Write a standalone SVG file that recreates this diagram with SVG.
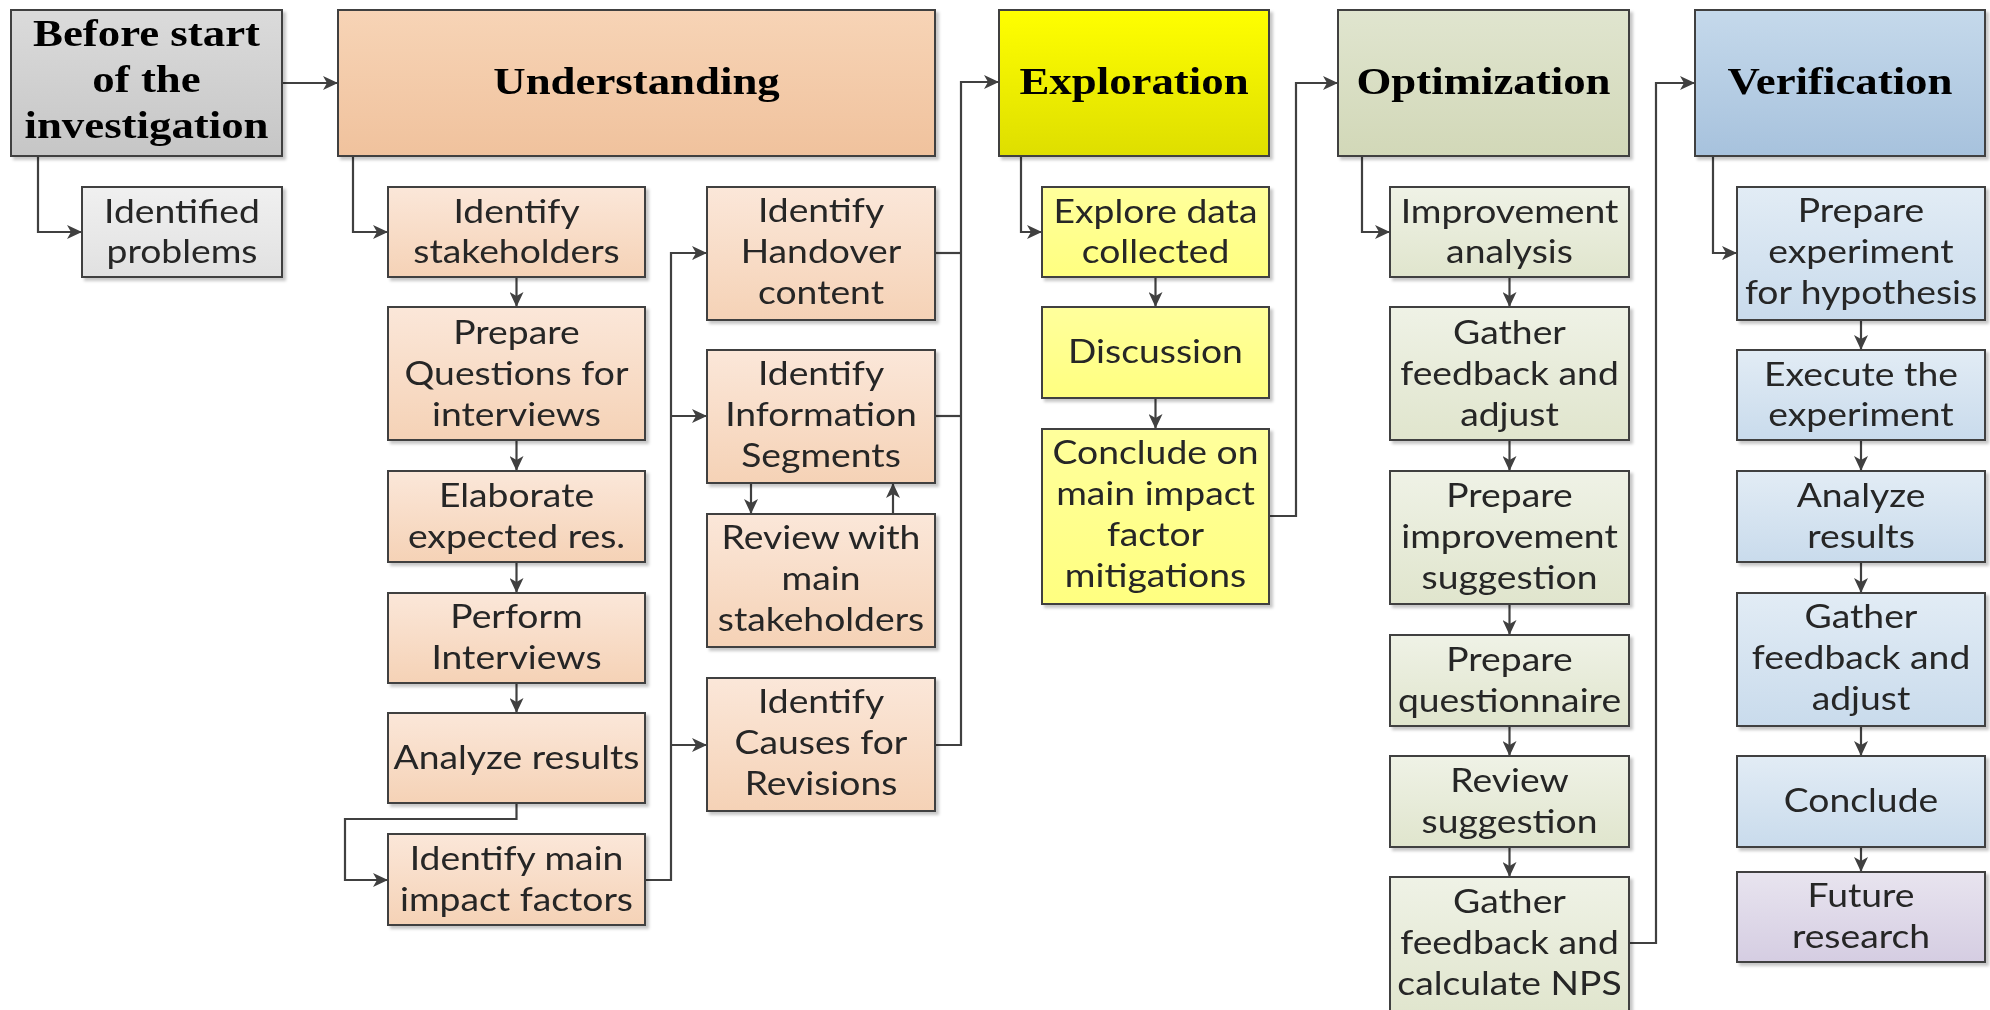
<svg xmlns="http://www.w3.org/2000/svg" width="1990" height="1010" viewBox="0 0 1990 1010">
<defs>
<style>
.box{stroke:#404040;stroke-width:2}
.h{font-family:"Liberation Serif",serif;font-weight:bold;font-size:38px;fill:#000;text-anchor:middle}
.t{font-family:Lato,"Noto Sans",sans-serif;font-size:32px;fill:#262626;text-anchor:middle}
.c{fill:none;stroke:#404040;stroke-width:2.2}
.a{marker-end:url(#ah)}
</style>
<filter id="sh" x="-5%" y="-5%" width="115%" height="120%">
<feDropShadow dx="3" dy="3" stdDeviation="1.5" flood-color="#000" flood-opacity="0.22"/>
</filter>
<marker id="ah" markerUnits="userSpaceOnUse" markerWidth="15" markerHeight="14" refX="15" refY="7" orient="auto">
<path d="M0,0 L15,7 L0,14 L4,7 z" fill="#404040"/>
</marker>
<linearGradient id="gH" x1="0" y1="0" x2="0" y2="1"><stop offset="0" stop-color="#dbdbdb"/><stop offset="1" stop-color="#c6c6c6"/></linearGradient>
<linearGradient id="gS" x1="0" y1="0" x2="0" y2="1"><stop offset="0" stop-color="#f0f0f0"/><stop offset="1" stop-color="#e1e1e1"/></linearGradient>
<linearGradient id="pH" x1="0" y1="0" x2="0" y2="1"><stop offset="0" stop-color="#f7d4b6"/><stop offset="1" stop-color="#f0c29d"/></linearGradient>
<linearGradient id="pS" x1="0" y1="0" x2="0" y2="1"><stop offset="0" stop-color="#fbe7d9"/><stop offset="1" stop-color="#f5d2b6"/></linearGradient>
<linearGradient id="yH" x1="0" y1="0" x2="0" y2="1"><stop offset="0" stop-color="#ffff00"/><stop offset="1" stop-color="#dede00"/></linearGradient>
<linearGradient id="yS" x1="0" y1="0" x2="0" y2="1"><stop offset="0" stop-color="#ffff9c"/><stop offset="1" stop-color="#ffff80"/></linearGradient>
<linearGradient id="oH" x1="0" y1="0" x2="0" y2="1"><stop offset="0" stop-color="#e0e5cf"/><stop offset="1" stop-color="#d2d8b8"/></linearGradient>
<linearGradient id="oS" x1="0" y1="0" x2="0" y2="1"><stop offset="0" stop-color="#eff2e6"/><stop offset="1" stop-color="#e0e5cd"/></linearGradient>
<linearGradient id="bH" x1="0" y1="0" x2="0" y2="1"><stop offset="0" stop-color="#c5d9eb"/><stop offset="1" stop-color="#a7c2dd"/></linearGradient>
<linearGradient id="bS" x1="0" y1="0" x2="0" y2="1"><stop offset="0" stop-color="#e2ecf5"/><stop offset="1" stop-color="#c9dbec"/></linearGradient>
<linearGradient id="vS" x1="0" y1="0" x2="0" y2="1"><stop offset="0" stop-color="#e8e4ef"/><stop offset="1" stop-color="#d5cde2"/></linearGradient>
</defs>
<rect width="1990" height="1010" fill="#ffffff"/>

<g id="connectors">
<path class="c a" d="M282,83 H338"/>
<path class="c a" d="M38,156 V232 H82"/>
<path class="c a" d="M353,156 V232 H388"/>
<path class="c a" d="M516.5,277 V307"/>
<path class="c a" d="M516.5,440 V471"/>
<path class="c a" d="M516.5,562 V593"/>
<path class="c a" d="M516.5,683 V713"/>
<path class="c a" d="M516.5,803 V819 H345 V880 H388"/>
<path class="c a" d="M645,880 H671 V253 H707"/>
<path class="c a" d="M671,416 H707"/>
<path class="c a" d="M671,745 H707"/>
<path class="c a" d="M751,483 V514"/>
<path class="c a" d="M893,514 V483"/>
<path class="c" d="M935,253 H961"/>
<path class="c" d="M935,416 H961"/>
<path class="c a" d="M935,745 H961 V82 H999"/>
<path class="c a" d="M1021,156 V232 H1042"/>
<path class="c a" d="M1155.5,277 V307"/>
<path class="c a" d="M1155.5,398 V429"/>
<path class="c a" d="M1269,516 H1296 V83 H1338"/>
<path class="c a" d="M1362,156 V232 H1390"/>
<path class="c a" d="M1509.5,277 V307"/>
<path class="c a" d="M1509.5,440 V471"/>
<path class="c a" d="M1509.5,604 V635"/>
<path class="c a" d="M1509.5,726 V756"/>
<path class="c a" d="M1509.5,847 V877"/>
<path class="c a" d="M1629,943 H1656 V83 H1695"/>
<path class="c a" d="M1713,156 V253 H1737"/>
<path class="c a" d="M1861,320 V350"/>
<path class="c a" d="M1861,440 V471"/>
<path class="c a" d="M1861,562 V593"/>
<path class="c a" d="M1861,726 V756"/>
<path class="c a" d="M1861,847 V872"/>
</g>

<g id="before-start" filter="url(#sh)">
<rect class="box" x="11" y="10" width="271" height="146" fill="url(#gH)"/>
<text class="h" transform="translate(146.5,0) scale(1.18,1)"><tspan x="0" y="46">Before start</tspan><tspan x="0" y="92">of the</tspan><tspan x="0" y="138">investigation</tspan></text>
</g>
<g id="identified-problems" filter="url(#sh)">
<rect class="box" x="82" y="187" width="200" height="90" fill="url(#gS)"/>
<text class="t" transform="translate(182,0) scale(1.165,1)"><tspan x="0" y="223">Identified</tspan><tspan x="0" y="263">problems</tspan></text>
</g>

<g id="understanding" filter="url(#sh)">
<rect class="box" x="338" y="10" width="597" height="146" fill="url(#pH)"/>
<text class="h" transform="translate(636.5,0) scale(1.18,1)"><tspan x="0" y="94">Understanding</tspan></text>
</g>
<g id="identify-stakeholders" filter="url(#sh)">
<rect class="box" x="388" y="187" width="257" height="90" fill="url(#pS)"/>
<text class="t" transform="translate(516.5,0) scale(1.165,1)"><tspan x="0" y="223">Identify</tspan><tspan x="0" y="263">stakeholders</tspan></text>
</g>
<g id="prepare-questions" filter="url(#sh)">
<rect class="box" x="388" y="307" width="257" height="133" fill="url(#pS)"/>
<text class="t" transform="translate(516.5,0) scale(1.165,1)"><tspan x="0" y="344">Prepare</tspan><tspan x="0" y="385">Questions for</tspan><tspan x="0" y="426">interviews</tspan></text>
</g>
<g id="elaborate" filter="url(#sh)">
<rect class="box" x="388" y="471" width="257" height="91" fill="url(#pS)"/>
<text class="t" transform="translate(516.5,0) scale(1.165,1)"><tspan x="0" y="507">Elaborate</tspan><tspan x="0" y="548">expected res.</tspan></text>
</g>
<g id="perform-interviews" filter="url(#sh)">
<rect class="box" x="388" y="593" width="257" height="90" fill="url(#pS)"/>
<text class="t" transform="translate(516.5,0) scale(1.165,1)"><tspan x="0" y="628">Perform</tspan><tspan x="0" y="669">Interviews</tspan></text>
</g>
<g id="analyze-results-u" filter="url(#sh)">
<rect class="box" x="388" y="713" width="257" height="90" fill="url(#pS)"/>
<text class="t" transform="translate(516.5,0) scale(1.165,1)"><tspan x="0" y="769">Analyze results</tspan></text>
</g>
<g id="identify-main-impact" filter="url(#sh)">
<rect class="box" x="388" y="834" width="257" height="91" fill="url(#pS)"/>
<text class="t" transform="translate(516.5,0) scale(1.165,1)"><tspan x="0" y="870">Identify main</tspan><tspan x="0" y="911">impact factors</tspan></text>
</g>
<g id="identify-handover" filter="url(#sh)">
<rect class="box" x="707" y="187" width="228" height="133" fill="url(#pS)"/>
<text class="t" transform="translate(821,0) scale(1.165,1)"><tspan x="0" y="222">Identify</tspan><tspan x="0" y="263">Handover</tspan><tspan x="0" y="304">content</tspan></text>
</g>
<g id="identify-segments" filter="url(#sh)">
<rect class="box" x="707" y="350" width="228" height="133" fill="url(#pS)"/>
<text class="t" transform="translate(821,0) scale(1.165,1)"><tspan x="0" y="385">Identify</tspan><tspan x="0" y="426">Information</tspan><tspan x="0" y="467">Segments</tspan></text>
</g>
<g id="review-stakeholders" filter="url(#sh)">
<rect class="box" x="707" y="514" width="228" height="133" fill="url(#pS)"/>
<text class="t" transform="translate(821,0) scale(1.165,1)"><tspan x="0" y="549">Review with</tspan><tspan x="0" y="590">main</tspan><tspan x="0" y="631">stakeholders</tspan></text>
</g>
<g id="identify-causes" filter="url(#sh)">
<rect class="box" x="707" y="678" width="228" height="133" fill="url(#pS)"/>
<text class="t" transform="translate(821,0) scale(1.165,1)"><tspan x="0" y="713">Identify</tspan><tspan x="0" y="754">Causes for</tspan><tspan x="0" y="795">Revisions</tspan></text>
</g>

<g id="exploration" filter="url(#sh)">
<rect class="box" x="999" y="10" width="270" height="146" fill="url(#yH)"/>
<text class="h" transform="translate(1134,0) scale(1.18,1)"><tspan x="0" y="94">Exploration</tspan></text>
</g>
<g id="explore-data" filter="url(#sh)">
<rect class="box" x="1042" y="187" width="227" height="90" fill="url(#yS)"/>
<text class="t" transform="translate(1155.5,0) scale(1.165,1)"><tspan x="0" y="223">Explore data</tspan><tspan x="0" y="263">collected</tspan></text>
</g>
<g id="discussion" filter="url(#sh)">
<rect class="box" x="1042" y="307" width="227" height="91" fill="url(#yS)"/>
<text class="t" transform="translate(1155.5,0) scale(1.165,1)"><tspan x="0" y="363">Discussion</tspan></text>
</g>
<g id="conclude-mitigations" filter="url(#sh)">
<rect class="box" x="1042" y="429" width="227" height="175" fill="url(#yS)"/>
<text class="t" transform="translate(1155.5,0) scale(1.165,1)"><tspan x="0" y="464">Conclude on</tspan><tspan x="0" y="505">main impact</tspan><tspan x="0" y="546">factor</tspan><tspan x="0" y="587">mitigations</tspan></text>
</g>

<g id="optimization" filter="url(#sh)">
<rect class="box" x="1338" y="10" width="291" height="146" fill="url(#oH)"/>
<text class="h" transform="translate(1483.5,0) scale(1.18,1)"><tspan x="0" y="94">Optimization</tspan></text>
</g>
<g id="improvement-analysis" filter="url(#sh)">
<rect class="box" x="1390" y="187" width="239" height="90" fill="url(#oS)"/>
<text class="t" transform="translate(1509.5,0) scale(1.165,1)"><tspan x="0" y="223">Improvement</tspan><tspan x="0" y="263">analysis</tspan></text>
</g>
<g id="gather-adjust-o" filter="url(#sh)">
<rect class="box" x="1390" y="307" width="239" height="133" fill="url(#oS)"/>
<text class="t" transform="translate(1509.5,0) scale(1.165,1)"><tspan x="0" y="344">Gather</tspan><tspan x="0" y="385">feedback and</tspan><tspan x="0" y="426">adjust</tspan></text>
</g>
<g id="prepare-improvement" filter="url(#sh)">
<rect class="box" x="1390" y="471" width="239" height="133" fill="url(#oS)"/>
<text class="t" transform="translate(1509.5,0) scale(1.165,1)"><tspan x="0" y="507">Prepare</tspan><tspan x="0" y="548">improvement</tspan><tspan x="0" y="589">suggestion</tspan></text>
</g>
<g id="prepare-questionnaire" filter="url(#sh)">
<rect class="box" x="1390" y="635" width="239" height="91" fill="url(#oS)"/>
<text class="t" transform="translate(1509.5,0) scale(1.165,1)"><tspan x="0" y="671">Prepare</tspan><tspan x="0" y="712">questionnaire</tspan></text>
</g>
<g id="review-suggestion" filter="url(#sh)">
<rect class="box" x="1390" y="756" width="239" height="91" fill="url(#oS)"/>
<text class="t" transform="translate(1509.5,0) scale(1.165,1)"><tspan x="0" y="792">Review</tspan><tspan x="0" y="833">suggestion</tspan></text>
</g>
<g id="gather-nps" filter="url(#sh)">
<rect class="box" x="1390" y="877" width="239" height="140" fill="url(#oS)"/>
<text class="t" transform="translate(1509.5,0) scale(1.165,1)"><tspan x="0" y="913">Gather</tspan><tspan x="0" y="954">feedback and</tspan><tspan x="0" y="995">calculate NPS</tspan></text>
</g>

<g id="verification" filter="url(#sh)">
<rect class="box" x="1695" y="10" width="290" height="146" fill="url(#bH)"/>
<text class="h" transform="translate(1840,0) scale(1.18,1)"><tspan x="0" y="94">Verification</tspan></text>
</g>
<g id="prepare-experiment" filter="url(#sh)">
<rect class="box" x="1737" y="187" width="248" height="133" fill="url(#bS)"/>
<text class="t" transform="translate(1861,0) scale(1.165,1)"><tspan x="0" y="222">Prepare</tspan><tspan x="0" y="263">experiment</tspan><tspan x="0" y="304">for hypothesis</tspan></text>
</g>
<g id="execute-experiment" filter="url(#sh)">
<rect class="box" x="1737" y="350" width="248" height="90" fill="url(#bS)"/>
<text class="t" transform="translate(1861,0) scale(1.165,1)"><tspan x="0" y="386">Execute the</tspan><tspan x="0" y="426">experiment</tspan></text>
</g>
<g id="analyze-results-v" filter="url(#sh)">
<rect class="box" x="1737" y="471" width="248" height="91" fill="url(#bS)"/>
<text class="t" transform="translate(1861,0) scale(1.165,1)"><tspan x="0" y="507">Analyze</tspan><tspan x="0" y="548">results</tspan></text>
</g>
<g id="gather-adjust-v" filter="url(#sh)">
<rect class="box" x="1737" y="593" width="248" height="133" fill="url(#bS)"/>
<text class="t" transform="translate(1861,0) scale(1.165,1)"><tspan x="0" y="628">Gather</tspan><tspan x="0" y="669">feedback and</tspan><tspan x="0" y="710">adjust</tspan></text>
</g>
<g id="conclude" filter="url(#sh)">
<rect class="box" x="1737" y="756" width="248" height="91" fill="url(#bS)"/>
<text class="t" transform="translate(1861,0) scale(1.165,1)"><tspan x="0" y="812">Conclude</tspan></text>
</g>
<g id="future-research" filter="url(#sh)">
<rect class="box" x="1737" y="872" width="248" height="90" fill="url(#vS)"/>
<text class="t" transform="translate(1861,0) scale(1.165,1)"><tspan x="0" y="907">Future</tspan><tspan x="0" y="948">research</tspan></text>
</g>
</svg>
